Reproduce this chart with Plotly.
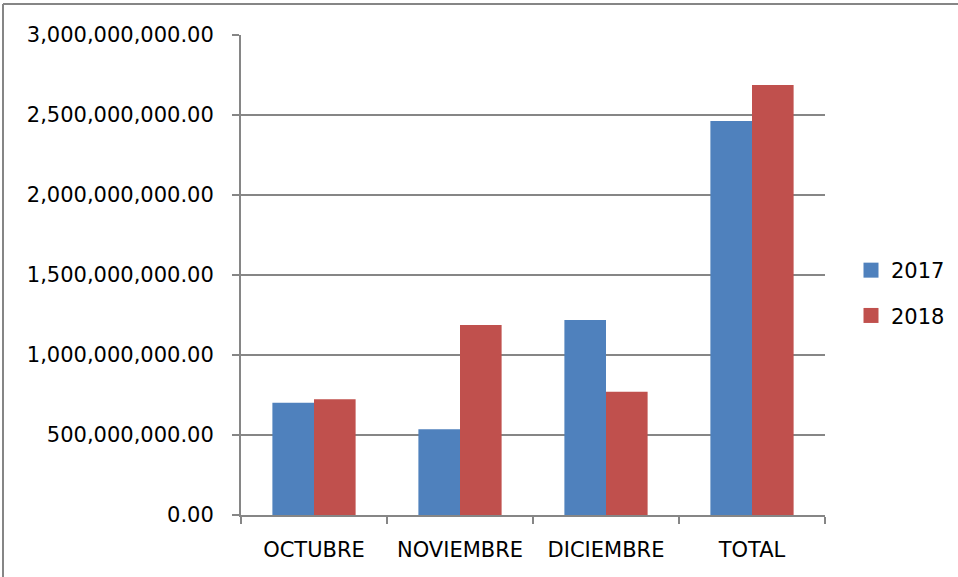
import plotly.graph_objects as go

categories = ["OCTUBRE", "NOVIEMBRE", "DICIEMBRE", "TOTAL"]
values_2017 = [701_000_000, 536_000_000, 1_218_000_000, 2_462_000_000]
values_2018 = [724_000_000, 1_188_000_000, 770_000_000, 2_687_000_000]
series_names = ["2017", "2018"]
series_colors = ["#4F81BD", "#C0504D"]
tick_vals = [0, 500_000_000, 1_000_000_000, 1_500_000_000, 2_000_000_000, 2_500_000_000, 3_000_000_000]
tick_text = ["0.00", "500,000,000.00", "1,000,000,000.00", "1,500,000,000.00",
             "2,000,000,000.00", "2,500,000,000.00", "3,000,000,000.00"]

W, H = 958, 577
L, R, T, B = 241, 825, 35, 515

FONT = "DejaVu Sans"
FS = 21
AX = "#868686"

fig = go.Figure()
for name, vals, col in zip(series_names, [values_2017, values_2018], series_colors):
    fig.add_trace(go.Bar(x=categories, y=vals, name=name, showlegend=False,
                         marker=dict(color=col, line=dict(width=0))))
# legend-only entries with 15px square swatches
for name, col in zip(series_names, series_colors):
    fig.add_trace(go.Scatter(x=[None], y=[None], mode="markers", name=name,
                             legendgroup=name, showlegend=True,
                             marker=dict(symbol="square", size=15, color=col)))

pw, ph = R - L, B - T
def px(x): return (x - L) / pw
def py(y): return (B - y) / ph

fig.update_layout(
    width=W, height=H,
    margin=dict(l=L, r=W - R, t=T, b=H - B, pad=0, autoexpand=False),
    paper_bgcolor="white", plot_bgcolor="white",
    barmode="group", bargap=0.43, bargroupgap=0,
    font=dict(family=FONT, size=FS, color="black"),
    showlegend=True,
    legend=dict(xref="container", yref="container", x=851 / W, y=1 - 250 / H,
                xanchor="left", yanchor="top",
                font=dict(family=FONT, size=FS, color="black"),
                itemwidth=30, traceorder="grouped", tracegroupgap=15,
                bgcolor="rgba(0,0,0,0)", borderwidth=0),
    xaxis=dict(showgrid=False, showline=True, linecolor=AX, linewidth=2,
               ticks="outside", ticklen=7, tickcolor=AX, tickwidth=2,
               tickson="boundaries", tickfont=dict(family=FONT, size=FS),
               ticklabelstandoff=15),
    yaxis=dict(range=[0, 3_000_000_000], tickvals=tick_vals, ticktext=tick_text,
               showgrid=True, gridcolor=AX, gridwidth=2,
               showline=True, linecolor=AX, linewidth=2,
               ticks="outside", ticklen=7, tickcolor=AX, tickwidth=2,
               tickfont=dict(family=FONT, size=FS), zeroline=False, ticklabelstandoff=14),
    shapes=[
        dict(type="line", xref="paper", yref="paper", x0=px(3), x1=px(958), y0=py(4), y1=py(4),
             line=dict(color=AX, width=2)),
        dict(type="line", xref="paper", yref="paper", x0=px(3), x1=px(3), y0=py(4), y1=py(577),
             line=dict(color=AX, width=2)),
    ],
)

fig.write_html("out.html", config={"displayModeBar": False},
               post_script="document.body.style.margin='0';")
